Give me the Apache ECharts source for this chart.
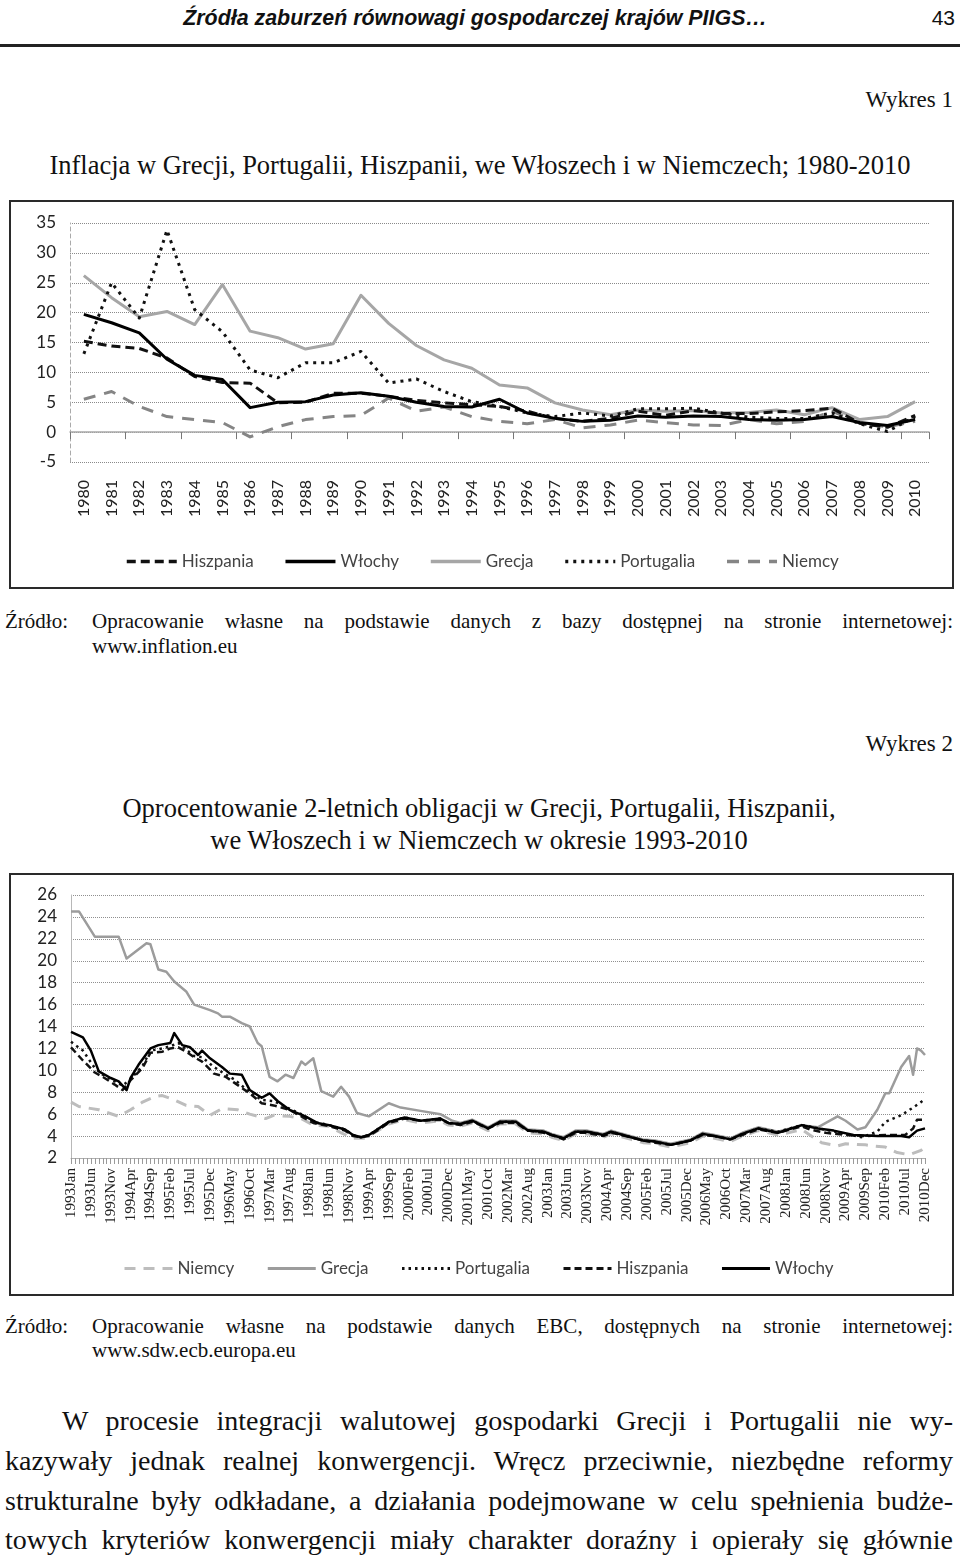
<!DOCTYPE html>
<html><head><meta charset="utf-8">
<script src="https://cdn.jsdelivr.net/npm/echarts@6/dist/echarts.min.js"></script>
<style>
html,body{margin:0;padding:0}
body{width:960px;height:1557px;background:#fff;position:relative;overflow:hidden;font-family:"Liberation Serif",serif;color:#111}
.abs{position:absolute;white-space:nowrap}
.box{position:absolute;border:2px solid #2a2a2a;box-sizing:border-box;background:#fff}
.jl{position:absolute;text-align:justify;text-align-last:justify;white-space:normal}
.src{font-size:21px;line-height:24px}
.par{font-size:28px;line-height:40px}
</style></head><body>
<div class="abs" style="left:0;width:950px;top:4px;text-align:center;font:italic bold 21.4px 'Liberation Sans';line-height:28px">Źródła zaburzeń równowagi gospodarczej krajów PIIGS…</div>
<div class="abs" style="right:5px;top:4px;font:21px 'Liberation Sans';line-height:28px">43</div>
<div style="position:absolute;left:0;top:44px;width:960px;height:3px;background:#222"></div>

<div class="abs" style="right:7px;top:86px;font-size:23px;line-height:28px">Wykres 1</div>
<div class="abs" style="left:0;width:960px;top:149px;text-align:center;font-size:26.5px;line-height:32px">Inflacja w Grecji, Portugalii, Hiszpanii, we Włoszech i w Niemczech; 1980-2010</div>

<div class="box" style="left:9px;top:200px;width:945px;height:389px"></div>
<div id="c1" style="position:absolute;left:11px;top:202px;width:941px;height:385px"></div>

<div class="abs src" style="left:5px;top:609px">Źródło:</div>
<div class="jl src" style="left:92px;top:609px;width:861px">Opracowanie własne na podstawie danych z bazy dostępnej na stronie internetowej:</div>
<div class="abs src" style="left:92px;top:634px">www.inflation.eu</div>

<div class="abs" style="right:7px;top:730px;font-size:23px;line-height:28px">Wykres 2</div>
<div class="abs" style="left:0;width:958px;top:792px;text-align:center;font-size:26.5px;line-height:32px">Oprocentowanie 2-letnich obligacji w Grecji, Portugalii, Hiszpanii,</div>
<div class="abs" style="left:0;width:958px;top:824px;text-align:center;font-size:26.5px;line-height:32px">we Włoszech i w Niemczech w okresie 1993-2010</div>

<div class="box" style="left:9px;top:873px;width:945px;height:423px"></div>
<div id="c2" style="position:absolute;left:11px;top:875px;width:941px;height:419px"></div>

<div class="abs src" style="left:5px;top:1314px">Źródło:</div>
<div class="jl src" style="left:92px;top:1314px;width:861px">Opracowanie własne na podstawie danych EBC, dostępnych na stronie internetowej:</div>
<div class="abs src" style="left:92px;top:1338px">www.sdw.ecb.europa.eu</div>

<div class="jl par" style="left:62px;top:1401px;width:891px">W procesie integracji walutowej gospodarki Grecji i Portugalii nie wy-</div>
<div class="jl par" style="left:5px;top:1441px;width:948px">kazywały jednak realnej konwergencji. Wręcz przeciwnie, niezbędne reformy</div>
<div class="jl par" style="left:5px;top:1481px;width:948px">strukturalne były odkładane, a działania podejmowane w celu spełnienia budże-</div>
<div class="jl par" style="left:5px;top:1520px;width:948px">towych kryteriów konwergencji miały charakter doraźny i opierały się głównie</div>

<script>
// ---------- Wykres 1: inflacja (roczna) ----------
const years1 = ['1980','1981','1982','1983','1984','1985','1986','1987','1988','1989','1990','1991','1992','1993','1994','1995','1996','1997','1998','1999','2000','2001','2002','2003','2004','2005','2006','2007','2008','2009','2010'];
const hiszpania1  = [15.2,14.4,14.0,12.4,9.3,8.3,8.2,4.9,5.0,6.5,6.5,6.0,5.3,4.9,4.6,4.3,3.5,2.3,1.8,2.3,3.5,2.8,3.6,3.1,3.1,3.4,3.6,4.0,1.5,0.8,2.8];
const wlochy1     = [19.7,18.3,16.6,12.2,9.5,8.8,4.1,5.0,5.1,6.2,6.6,6.0,5.0,4.3,4.2,5.5,3.2,2.3,1.8,2.0,2.7,2.5,2.7,2.6,2.1,2.0,2.1,2.6,1.6,1.1,2.1];
const grecja1     = [26.2,22.5,19.3,20.2,18.0,24.7,16.9,15.8,13.9,14.8,22.9,18.2,14.5,12.1,10.7,7.9,7.4,4.9,3.7,2.9,3.7,3.5,3.6,3.2,3.3,3.7,2.9,4.1,2.1,2.6,5.1];
const portugalia1 = [13.1,25.0,19.1,33.8,20.5,16.8,10.4,9.1,11.6,11.6,13.5,8.2,8.9,6.8,5.1,4.3,3.2,2.6,3.2,2.7,3.9,3.9,4.0,3.2,2.5,2.3,2.3,3.2,1.4,0.1,2.6];
const niemcy1     = [5.5,6.8,4.3,2.6,2.1,1.6,-0.8,0.9,2.1,2.6,2.8,5.7,3.5,4.2,2.6,1.8,1.4,2.1,0.7,1.2,2.0,1.6,1.2,1.1,2.1,1.4,1.8,3.5,1.5,0.9,1.8];

// ---------- Wykres 2: oprocentowanie obligacji 2-letnich (miesięcznie) ----------
const years2 = ['1993','1994','1995','1996','1997','1998','1999','2000','2001','2002','2003','2004','2005','2006','2007','2008','2009','2010'];
const monthNames = ['Jan','Feb','Mar','Apr','May','Jun','Jul','Aug','Sep','Oct','Nov','Dec'];
// [month index from 1993Jan, value]
const niemcy2 = [[0,7.1],[2,6.7],[7,6.4],[12,5.8],[15,6.4],[18,7.1],[21,7.6],[23,7.7],[26,7.3],[29,6.8],[32,6.7],[35,5.9],[38,6.5],[42,6.4],[45,6.0],[49,5.6],[51,5.9],[55,5.8],[58,5.6],[61,5.0],[65,4.9],[68,4.3],[71,3.8],[74,3.8],[80,5.1],[84,5.5],[88,5.2],[93,5.4],[95,5.0],[98,4.9],[101,5.2],[105,4.5],[108,5.1],[112,5.1],[115,4.3],[119,4.2],[121,3.9],[124,3.6],[127,4.2],[130,4.2],[134,3.9],[136,4.2],[141,3.7],[144,3.4],[147,3.3],[151,3.0],[156,3.4],[159,4.0],[162,3.8],[166,3.5],[169,4.0],[173,4.5],[178,4.1],[184,4.6],[186,4.1],[189,3.4],[193,3.1],[195,3.3],[200,3.2],[202,3.1],[205,3.0],[208,2.5],[211,2.3],[214,2.7],[215,3.0]];
const grecja2 = [[0,24.5],[2,24.5],[6,22.2],[12,22.2],[14,20.2],[19,21.6],[20,21.5],[22,19.2],[24,19.0],[26,18.1],[29,17.2],[31,16.0],[35,15.5],[37,15.2],[38,14.9],[40,14.9],[43,14.3],[45,14.0],[47,12.5],[48,12.2],[50,9.4],[52,9.0],[54,9.6],[56,9.3],[58,10.8],[59,10.5],[61,11.1],[63,8.1],[66,7.6],[68,8.5],[70,7.6],[72,6.1],[75,5.8],[80,7.0],[83,6.6],[88,6.3],[93,6.0],[96,5.4],[98,5.2],[101,5.5],[105,4.8],[108,5.4],[112,5.4],[115,4.6],[119,4.5],[121,4.2],[124,3.9],[127,4.5],[130,4.5],[134,4.2],[136,4.5],[141,4.0],[144,3.7],[147,3.6],[151,3.3],[156,3.7],[159,4.3],[162,4.1],[166,3.8],[169,4.3],[173,4.8],[178,4.4],[184,5.0],[188,4.8],[193,5.8],[195,5.4],[198,4.6],[200,4.8],[203,6.4],[205,7.9],[206,7.9],[209,10.3],[211,11.3],[212,9.6],[213,12.0],[214,11.8],[215,11.4]];
const portugalia2 = [[0,12.6],[3,11.8],[6,10.2],[8,9.6],[11,9.0],[13,8.6],[15,9.2],[18,10.4],[20,11.8],[23,12.0],[25,12.2],[27,12.5],[29,11.9],[31,11.3],[33,11.2],[36,10.3],[39,9.6],[41,9.2],[45,8.0],[48,7.3],[51,7.2],[55,6.5],[58,6.0],[61,5.3],[65,5.0],[69,4.6],[71,4.1],[73,3.9],[75,4.1],[80,5.3],[84,5.7],[88,5.4],[93,5.6],[95,5.2],[98,5.1],[101,5.4],[105,4.7],[108,5.3],[112,5.3],[115,4.5],[119,4.4],[121,4.1],[124,3.8],[127,4.4],[130,4.4],[134,4.1],[136,4.4],[141,3.9],[144,3.6],[147,3.5],[151,3.2],[156,3.6],[159,4.2],[162,4.0],[166,3.7],[169,4.2],[173,4.7],[178,4.4],[184,5.0],[187,4.8],[191,4.5],[195,4.2],[199,3.9],[203,4.4],[205,5.3],[209,5.9],[212,6.6],[214,7.1],[215,7.4]];
const hiszpania2 = [[0,12.1],[3,10.9],[6,9.8],[8,9.4],[11,8.7],[13,8.2],[15,9.1],[18,10.2],[20,11.6],[23,11.7],[25,12.0],[27,12.1],[29,11.7],[31,11.2],[33,10.8],[36,9.7],[39,9.4],[41,8.9],[45,7.9],[48,7.0],[51,6.8],[55,6.4],[58,5.8],[61,5.2],[65,4.9],[69,4.5],[71,4.0],[73,3.9],[75,4.0],[80,5.2],[84,5.6],[88,5.4],[93,5.5],[95,5.2],[98,5.0],[101,5.3],[105,4.7],[108,5.2],[112,5.2],[115,4.5],[119,4.3],[121,4.1],[124,3.7],[127,4.3],[130,4.3],[134,4.0],[136,4.3],[141,3.9],[144,3.6],[147,3.4],[151,3.2],[156,3.6],[159,4.1],[162,4.0],[166,3.7],[169,4.1],[173,4.6],[178,4.3],[184,4.9],[186,4.6],[190,4.3],[195,4.1],[200,4.0],[205,4.1],[210,4.1],[212,4.7],[213,5.5],[215,5.5]];
const wlochy2 = [[0,13.5],[3,13.0],[5,11.8],[7,9.9],[10,9.3],[12,9.0],[14,8.2],[15,9.3],[17,10.5],[20,12.0],[22,12.3],[25,12.5],[26,13.4],[28,12.3],[30,12.1],[32,11.4],[33,11.8],[35,11.1],[38,10.3],[40,9.7],[43,9.6],[45,8.2],[48,7.5],[50,7.9],[52,7.2],[55,6.4],[59,5.8],[62,5.2],[65,5.0],[69,4.6],[71,4.1],[73,3.9],[75,4.1],[80,5.3],[84,5.7],[88,5.4],[93,5.6],[95,5.2],[98,5.1],[101,5.4],[105,4.7],[108,5.3],[112,5.3],[115,4.5],[119,4.4],[121,4.1],[124,3.8],[127,4.4],[130,4.4],[134,4.1],[136,4.4],[141,3.9],[144,3.6],[147,3.5],[151,3.2],[156,3.6],[159,4.2],[162,4.0],[166,3.7],[169,4.2],[173,4.7],[178,4.3],[184,5.0],[188,4.7],[192,4.5],[197,4.1],[203,4.0],[209,4.0],[211,3.9],[213,4.5],[215,4.7]];

const months2 = [];
years2.forEach(y => monthNames.forEach(m => months2.push(y + m)));

const sans = 'Lato';
function lineSeries(name, data, color, width, type, z) {
  return {
    name, type: 'line', data, symbol: 'none', showSymbol: false, z,
    lineStyle: { color, width, type, cap: 'butt', join: 'round' },
    itemStyle: { color },
    emphasis: { disabled: true }, animation: false
  };
}

const c1 = echarts.init(document.getElementById('c1'), null, { renderer: 'canvas' });
c1.setOption({
  animation: false,
  grid: { left: 59, right: 23, top: 21, height: 239 },
  legend: {
    left: 109, top: 346, itemWidth: 50, itemHeight: 14, itemGap: 30,
    itemStyle: { opacity: 0 },
    lineStyle: { width: 3.5 },
    textStyle: { fontFamily: sans, fontSize: 17, color: '#444' },
    data: ['Hiszpania', 'Włochy', 'Grecja', 'Portugalia', 'Niemcy']
  },
  xAxis: [
    { type: 'category', data: years1, position: 'bottom', boundaryGap: true,
      axisLine: { show: false, onZero: false }, axisTick: { show: false },
      axisLabel: { rotate: 90, fontFamily: sans, fontSize: 16, color: '#222', margin: 18 } },
    { type: 'category', data: years1, position: 'bottom', boundaryGap: true,
      axisLine: { show: true, onZero: true, lineStyle: { color: '#a8a8a8', width: 1.5 } },
      axisTick: { show: true, length: 7, lineStyle: { color: '#777' } },
      axisLabel: { show: false } }
  ],
  yAxis: {
    type: 'value', min: -5, max: 35, interval: 5,
    axisLine: { show: true, lineStyle: { color: '#aaa', type: [4, 3] } },
    axisTick: { show: false },
    axisLabel: { fontFamily: sans, fontSize: 17, color: '#222', margin: 14 },
    splitLine: { lineStyle: { color: '#8a8a8a', type: [1, 1], width: 1 } }
  },
  series: [
    lineSeries('Niemcy', niemcy1, '#858585', 3, [12, 9], 1),
    lineSeries('Grecja', grecja1, '#a6a6a6', 3, 'solid', 2),
    lineSeries('Portugalia', portugalia1, '#111', 3, [3, 5], 3),
    lineSeries('Hiszpania', hiszpania1, '#111', 3, [9, 5], 4),
    lineSeries('Włochy', wlochy1, '#000', 3, 'solid', 5)
  ]
});

const c2 = echarts.init(document.getElementById('c2'), null, { renderer: 'canvas' });
c2.setOption({
  animation: false,
  grid: { left: 60, right: 27, top: 20, height: 263 },
  legend: {
    left: 107, top: 380, itemWidth: 48, itemHeight: 14, itemGap: 32,
    itemStyle: { opacity: 0 },
    lineStyle: { width: 3 },
    textStyle: { fontFamily: sans, fontSize: 17, color: '#444' },
    data: ['Niemcy', 'Grecja', 'Portugalia', 'Hiszpania', 'Włochy']
  },
  xAxis: {
    type: 'category', data: months2, boundaryGap: false,
    axisLine: { show: true, onZero: false, lineStyle: { color: '#b0b0b0', width: 1 } },
    axisTick: { show: true, interval: 0, length: 6, lineStyle: { color: '#9a9a9a' } },
    axisLabel: { interval: 4, rotate: 90, fontFamily: 'Liberation Serif', fontSize: 15, color: '#222', margin: 10 }
  },
  yAxis: {
    type: 'value', min: 2, max: 26, interval: 2,
    axisLine: { show: true, lineStyle: { color: '#b8b8b8' } },
    axisTick: { show: false },
    axisLabel: { fontFamily: sans, fontSize: 17, color: '#222', margin: 14 },
    splitLine: { lineStyle: { color: '#8f8f8f', type: [1, 1], width: 1 } }
  },
  series: [
    lineSeries('Niemcy', niemcy2, '#bdbdbd', 3, [11, 8], 1),
    lineSeries('Grecja', grecja2, '#9c9c9c', 2.5, 'solid', 2),
    lineSeries('Portugalia', portugalia2, '#111', 2.5, [2.5, 4], 3),
    lineSeries('Hiszpania', hiszpania2, '#111', 2.5, [7, 4], 4),
    lineSeries('Włochy', wlochy2, '#000', 2.5, 'solid', 5)
  ]
});
</script>
</body></html>
